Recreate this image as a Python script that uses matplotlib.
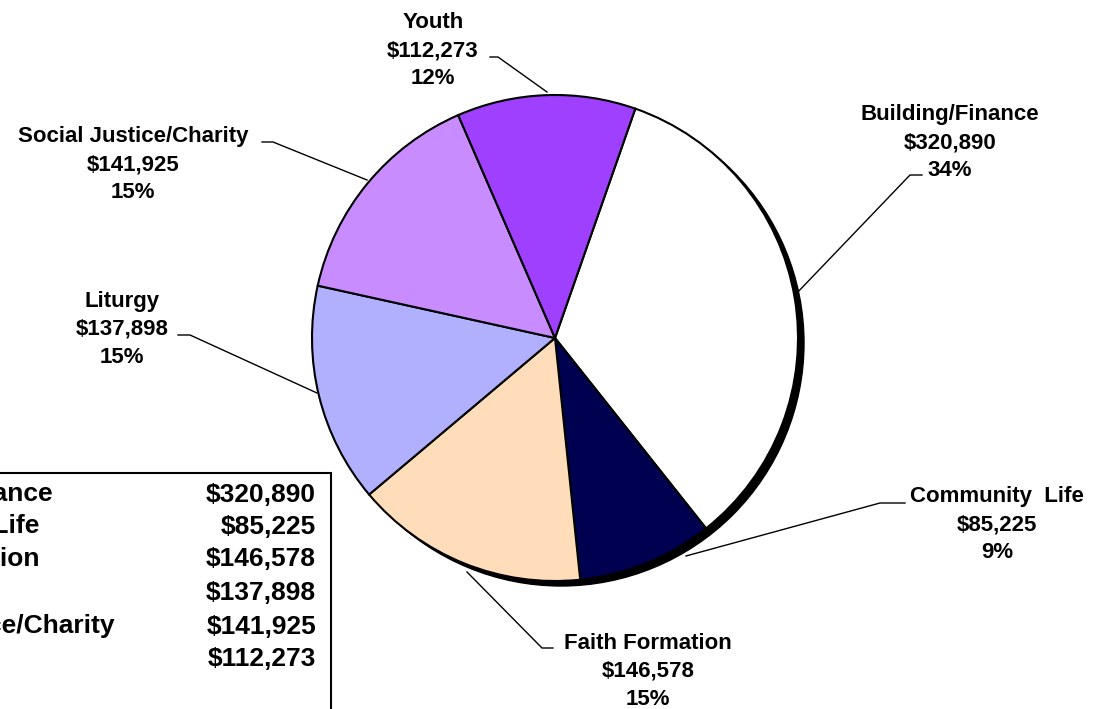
import math
import matplotlib.pyplot as plt
from matplotlib.patches import Circle, Rectangle

categories = ["Building/Finance", "Community  Life", "Faith Formation",
              "Liturgy", "Social Justice/Charity", "Youth"]
amounts = [320890, 85225, 146578, 137898, 141925, 112273]
colors = ["#FFFFFF", "#000050", "#FFDDBB", "#B0B0FF", "#C88CFF", "#A040FF"]

# label layout (pixel coords, y down): text centre and leader polyline
label_pos = [(950, 140), (997, 522), (648, 669), (122, 327), (133, 162), (433, 48)]
leaders = [
    [(795, 295), (910, 175), (922, 175)],
    [(686, 556), (880, 503), (905, 503)],
    [(467, 572), (542, 648), (553, 648)],
    [(317, 393), (190, 335), (178, 335)],
    [(367, 180), (273, 142), (262, 142)],
    [(547, 92), (498, 57), (490, 57)],
]

plt.rcParams['font.family'] = ['Liberation Sans', 'DejaVu Sans']

fig = plt.figure(figsize=(10.94, 7.09), dpi=100)
ax = fig.add_axes([0, 0, 1, 1])

cx, cy, r = 555, 338, 243

# shadow
ax.add_patch(Circle((cx + 6, cy + 5), r, color='black', zorder=0))

ax.pie(amounts, colors=colors, center=(cx, cy), radius=r,
       startangle=-70.7, counterclock=True,
       wedgeprops=dict(edgecolor='black', linewidth=1.5, zorder=1))

# percentages rounded so they add up to 100 (largest remainder)
total = sum(amounts)
raw = [v / total * 100 for v in amounts]
pcts = [math.floor(p) for p in raw]
order = sorted(range(len(raw)), key=lambda i: raw[i] - pcts[i], reverse=True)
for i in order[:100 - sum(pcts)]:
    pcts[i] += 1

for name, val, pct, (tx, ty), pts in zip(categories, amounts, pcts, label_pos, leaders):
    lines = [name, f"${val:,}", f"{pct}%"]
    for i, s in enumerate(lines):
        ax.text(tx, ty + (i - 1) * 28 + 8, s, ha='center', va='baseline',
                fontsize=16, fontweight='bold', zorder=3)
    xs, ys = zip(*pts)
    ax.plot(xs, ys, color='black', lw=1.0, zorder=2)

# data table box in the lower left
row_y = [492, 524, 557, 590, 624, 657]
ax.add_patch(Rectangle((-10, 473), 341, 260, fill=False, edgecolor='black',
                       lw=1.5, zorder=4, clip_on=False))
for name, val, y in zip(categories, amounts, row_y):
    ax.text(-160, y + 9.5, name.replace("  ", " "), ha='left', va='baseline',
            fontsize=19, fontweight='bold', zorder=5)
    ax.text(316, y + 9.5, f"${val:,}", ha='right', va='baseline',
            fontsize=19, fontweight='bold', zorder=5)

ax.set_xlim(0, 1094)
ax.set_ylim(709, 0)
ax.set_aspect('equal')
ax.axis('off')

fig.savefig('out.png', dpi=100)
